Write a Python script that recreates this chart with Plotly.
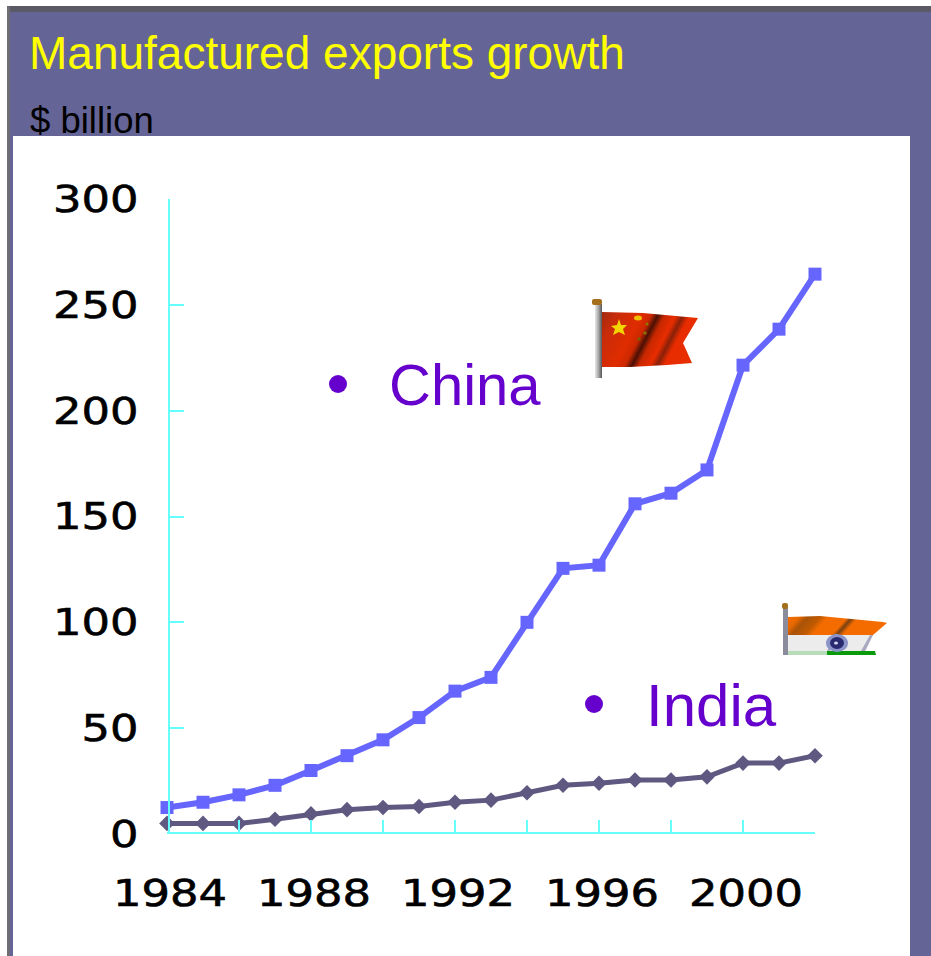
import base64
import plotly.graph_objects as go

W, H = 931, 956

years = list(range(1984, 2003))
china = [12.5, 15, 18.5, 23, 30, 37, 44.5, 55, 67.5, 74, 100, 125.5, 127, 156, 161, 172, 221.5, 238.5, 264.5]
india = [5, 5, 5, 7, 9.5, 11.5, 12.5, 13, 15, 16, 19.5, 23, 24, 25.5, 25.5, 27, 33.5, 33.5, 37]
x_labels = [1984, 1988, 1992, 1996, 2000]
x_minor = [1986, 1990, 1994, 1998, 2002]
y_ticks = [0, 50, 100, 150, 200, 250, 300]

SLATE = "#656496"
CYAN = "#66ffff"
PURPLE = "#6600cc"


def px(x):
    return x / W


def py(y):
    return 1 - y / H


def rect(x0, y0, x1, y1, color):
    return dict(type="rect", xref="paper", yref="paper", x0=px(x0), x1=px(x1), y0=py(y0), y1=py(y1),
                fillcolor=color, line_width=0, layer="below")


def dot(cx, cy, r, color):
    return dict(type="circle", xref="paper", yref="paper", x0=px(cx - r), x1=px(cx + r), y0=py(cy + r), y1=py(cy - r),
                fillcolor=color, line_width=0, layer="above")


CHINA_FLAG = """<svg xmlns='http://www.w3.org/2000/svg' width='110' height='84' viewBox='0 0 110 84'>
<defs>
<linearGradient id='pole' x1='0' x2='1' y1='0' y2='0'><stop offset='0' stop-color='#e8e8e8'/><stop offset='.5' stop-color='#a8a8a8'/><stop offset='1' stop-color='#555'/></linearGradient>
<linearGradient id='red' gradientUnits='userSpaceOnUse' x1='9' y1='13' x2='119' y2='70'>
<stop offset='0' stop-color='#a02a10'/><stop offset='.12' stop-color='#c82c0a'/><stop offset='.3' stop-color='#e02c00'/>
<stop offset='.37' stop-color='#cc2800'/><stop offset='.42' stop-color='#4a1005'/><stop offset='.47' stop-color='#c82800'/>
<stop offset='.55' stop-color='#e82c00'/><stop offset='.6' stop-color='#8a2008'/><stop offset='.65' stop-color='#e82c00'/>
<stop offset='1' stop-color='#e83000'/>
</linearGradient></defs>
<path d='M10 13 L51 14 L106 19 L91 44 L100 64 L75 66 L38 68 L10 68 Z' fill='url(#red)'/>
<path d='M19 27 L25 26 L27 20 L29 26 L35 26 L31 30 L33 36 L27 33 L21 36 L23 30 Z' fill='#f3d600'/>
<ellipse cx='46' cy='19' rx='4' ry='2.5' fill='#f0c000'/>
<circle cx='53' cy='34' r='1.6' fill='#8a7a00'/><circle cx='47' cy='40' r='1.6' fill='#6a6a00'/><circle cx='55' cy='25' r='1.5' fill='#8a7a00'/>
<rect x='3' y='5' width='7' height='74' fill='url(#pole)'/>
<rect x='0' y='0' width='10' height='6' rx='2' fill='#a5701c'/>
</svg>"""

INDIA_FLAG = """<svg xmlns='http://www.w3.org/2000/svg' width='110' height='56' viewBox='0 0 110 56'>
<defs>
<linearGradient id='or' gradientUnits='userSpaceOnUse' x1='7' y1='14' x2='97' y2='94'>
<stop offset='0' stop-color='#f46c00'/><stop offset='.07' stop-color='#e86800'/><stop offset='.12' stop-color='#a85308'/>
<stop offset='.2' stop-color='#c05a00'/><stop offset='.25' stop-color='#f46c00'/><stop offset='.37' stop-color='#f46c00'/>
<stop offset='.4' stop-color='#7a4010'/><stop offset='.44' stop-color='#f46c00'/><stop offset='1' stop-color='#f46c00'/>
</linearGradient></defs>
<path d='M7 14 L39 13 L102 19 L106 20 L92 32 L7 32 Z' fill='url(#or)'/>
<path d='M7 32 L92 32 L85 48 L7 48 Z' fill='#ececec'/>
<path d='M84 48 L92 32 L89 32 L80 48 Z' fill='#a8a8c0'/>
<path d='M46 48 L54 31 L57 31 L49 48 Z' fill='#b0b0c4'/>
<path d='M7 48 L46 48 L46 52 L7 52 Z' fill='#b8dcb8'/>
<path d='M46 48 L94 48 L95 52 L46 52 Z' fill='#0b9a0b'/>
<ellipse cx='56' cy='40' rx='11' ry='9' fill='#8c94c8'/>
<ellipse cx='56' cy='40' rx='7' ry='6' fill='#2a2a70'/>
<ellipse cx='55' cy='40' rx='2' ry='1.5' fill='#d8d8f0'/>
<rect x='2' y='4' width='5' height='48' fill='#8a8c9c'/>
<rect x='1' y='0' width='6' height='6' rx='2' fill='#a5701c'/>
</svg>"""


def svg_uri(markup):
    return "data:image/svg+xml;base64," + base64.b64encode(markup.encode()).decode()


def flag(markup, x0, y0, w, h):
    return dict(source=svg_uri(markup), xref="paper", yref="paper", x=px(x0), y=py(y0),
                sizex=w / W, sizey=h / H, xanchor="left", yanchor="top", sizing="stretch", layer="above")


def label(text, x, y, size, color, anchor="left"):
    return dict(text=text, xref="paper", yref="paper", x=px(x), y=py(y), xanchor=anchor, yanchor="middle",
                showarrow=False, font=dict(family="Liberation Sans", size=size, color=color))


fig = go.Figure()
fig.add_trace(go.Scatter(x=years, y=china, mode="lines+markers", cliponaxis=False, name="China",
                         line=dict(color="#6666ff", width=6),
                         marker=dict(symbol="square", size=13, color="#6666ff")))
fig.add_trace(go.Scatter(x=years, y=india, mode="lines+markers", cliponaxis=False, name="India",
                         line=dict(color="#5f5880", width=5),
                         marker=dict(symbol="diamond", size=12, color="#5f5880")))

fig.update_layout(
    width=W, height=H, autosize=False, showlegend=False,
    margin=dict(l=0, r=0, t=0, b=0, autoexpand=False),
    paper_bgcolor="white", plot_bgcolor="rgba(0,0,0,0)",
    xaxis=dict(domain=[px(167), px(815)], range=[1984, 2002], showgrid=False, zeroline=False, automargin=False,
               anchor="free", position=py(833),
               showline=True, linecolor=CYAN, linewidth=2, ticks="inside", ticklen=12, tickcolor=CYAN, tickwidth=2,
               tickmode="array", tickvals=x_labels, ticktext=[str(v) for v in x_labels],
               ticklabelstandoff=28,
               minor=dict(tickmode="array", tickvals=x_minor, ticks="inside", ticklen=12, tickcolor=CYAN, tickwidth=2,
                          showgrid=False),
               tickfont=dict(family="DejaVu Sans", size=37, color="black")),
    yaxis=dict(domain=[py(834), py(199)], range=[0, 300], showgrid=False, zeroline=False, automargin=False,
               anchor="free", position=px(169),
               showline=True, linecolor=CYAN, linewidth=2, ticks="inside", ticklen=14, tickcolor=CYAN, tickwidth=2,
               tickmode="array", tickvals=y_ticks, ticklabelstandoff=22,
               tickfont=dict(family="DejaVu Sans", size=37, color="black")),
    shapes=[
        rect(7, 6, W, H, "#5a5a66"),
        rect(7, 6, 10, H, "#6e6e74"),
        rect(10, 12, W, H, SLATE),
        rect(13, 136, 910, H, "white"),
        dot(338, 384, 9, PURPLE),
        dot(594, 704, 9, PURPLE),
    ],
    annotations=[
        label("Manufactured exports growth", 27, 53, 46, "#ffff00"),
        label("$ billion", 28, 121, 36.5, "black"),
        label("China", 387, 385, 58, PURPLE),
        label("India", 644, 705, 60, PURPLE),
    ],
    images=[
        flag(CHINA_FLAG, 592, 299, 110, 84),
        flag(INDIA_FLAG, 781, 603, 110, 56),
    ],
)

# The axis numerals are set in an extended, slightly heavy face: widen each tick label in place.
widen_ticks = """
var gd = document.getElementById('{plot_id}');
gd.querySelectorAll('.xtick text, .ytick text').forEach(function (t) {
  t.setAttribute('textLength', String(t.textContent.length * 28.5));
  t.setAttribute('lengthAdjust', 'spacingAndGlyphs');
  t.style.stroke = 'black';
  t.style.strokeWidth = '0.6px';
});
gd.querySelectorAll('.xtick text').forEach(function (t) { t.setAttribute('dx', '3'); });
"""

fig.write_html("out.html", config=dict(displayModeBar=False), post_script=widen_ticks)
